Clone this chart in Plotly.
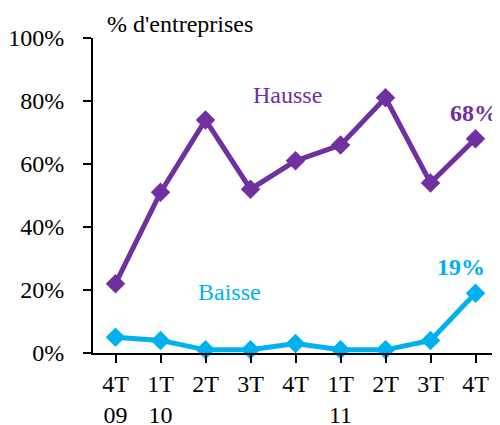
import plotly.graph_objects as go

categories = ["4T<br>09", "1T<br>10", "2T<br> ", "3T<br> ", "4T<br> ", "1T<br>11", "2T<br> ", "3T<br> ", "4T<br> "]
hausse = [22, 51, 74, 52, 61, 66, 81, 54, 68]
baisse = [5, 4, 1, 1, 3, 1, 1, 4, 19]
y_ticks = [0, 20, 40, 60, 80, 100]
y_tick_labels = ["0%", "20%", "40%", "60%", "80%", "100%"]

purple = "#7030A0"
cyan = "#00B0F0"
font_family = "Liberation Serif"
fs = 24

x_idx = list(range(len(categories)))

fig = go.Figure()
fig.add_trace(go.Scatter(x=x_idx, y=hausse, mode="lines+markers",
                         line=dict(color=purple, width=5),
                         marker=dict(symbol="diamond", size=15, color=purple),
                         cliponaxis=False, showlegend=False))
fig.add_trace(go.Scatter(x=x_idx, y=baisse, mode="lines+markers",
                         line=dict(color=cyan, width=5),
                         marker=dict(symbol="diamond", size=15, color=cyan),
                         cliponaxis=False, showlegend=False))

fig.update_layout(
    width=492, height=417,
    margin=dict(l=85, r=2, t=30, b=72, autoexpand=False),
    paper_bgcolor="white", plot_bgcolor="white",
    font=dict(family=font_family, size=fs, color="black"),
    xaxis=dict(
        range=[-0.5, len(categories) - 0.5],
        tickmode="array", tickvals=x_idx, ticktext=categories,
        showline=True, linecolor="black", linewidth=2,
        ticks="outside", ticklen=8, tickwidth=2, tickcolor="black",
        showgrid=False, zeroline=False, automargin=False,
        tickfont=dict(family=font_family, size=fs),
    ),
    yaxis=dict(
        range=[0, 100],
        tickmode="array", tickvals=y_ticks, ticktext=y_tick_labels,
        showline=True, linecolor="black", linewidth=2,
        ticks="outside", ticklen=8, tickwidth=2, tickcolor="black",
        showgrid=False, zeroline=False, automargin=False,
        ticklabelstandoff=14,
        tickfont=dict(family=font_family, size=fs),
    ),
    annotations=[
        dict(text="% d'entreprises", xref="paper", yref="paper", x=0.03, y=1.044,
             xanchor="left", yanchor="middle", showarrow=False,
             font=dict(family=font_family, size=fs, color="black")),
        dict(text="Hausse", x=3.82, y=81.9, xref="x", yref="y", showarrow=False,
             font=dict(family=font_family, size=fs, color=purple)),
        dict(text="Baisse", x=2.54, y=19.4, xref="x", yref="y", showarrow=False,
             font=dict(family=font_family, size=fs, color=cyan)),
        dict(text="<b>68%</b>", x=7.97, y=76.2, xref="x", yref="y", showarrow=False,
             font=dict(family=font_family, size=fs, color=purple)),
        dict(text="<b>19%</b>", x=7.68, y=27.3, xref="x", yref="y", showarrow=False,
             font=dict(family=font_family, size=fs, color=cyan)),
    ],
)

fig.write_html("out.html")
